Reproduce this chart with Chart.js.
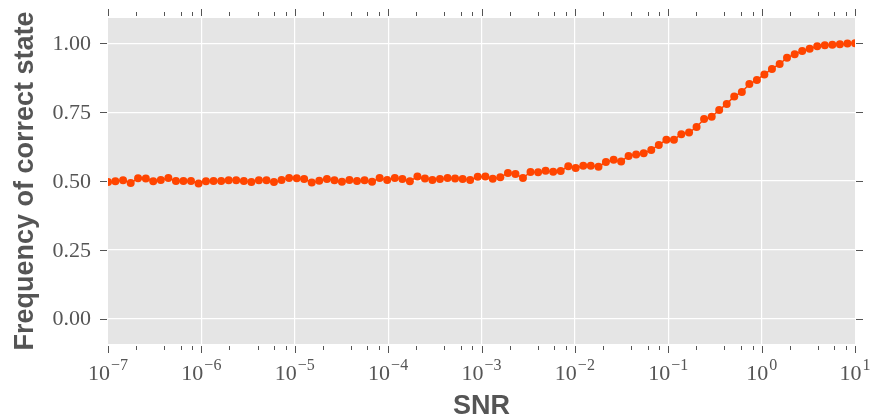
<!DOCTYPE html>
<html>
<head>
<meta charset="utf-8">
<script src="https://cdn.jsdelivr.net/npm/chart.js@4.4.1/dist/chart.umd.min.js"></script>
<style>
  html, body { margin: 0; padding: 0; background: #fff; }
  canvas { display: block; }
</style>
</head>
<body>
<canvas id="snrChart" width="872" height="419"></canvas>
<script>
// SNR values (x, log scale)
const snr = [
  1.00e-7, 1.20e-7, 1.45e-7, 1.75e-7, 2.10e-7, 2.54e-7, 3.05e-7, 3.68e-7, 4.43e-7, 5.34e-7,
  6.43e-7, 7.74e-7, 9.33e-7, 1.12e-6, 1.35e-6, 1.63e-6, 1.96e-6, 2.36e-6, 2.85e-6, 3.43e-6,
  4.13e-6, 4.98e-6, 5.99e-6, 7.22e-6, 8.70e-6, 1.05e-5, 1.26e-5, 1.52e-5, 1.83e-5, 2.21e-5,
  2.66e-5, 3.20e-5, 3.85e-5, 4.64e-5, 5.59e-5, 6.73e-5, 8.11e-5, 9.77e-5, 1.18e-4, 1.42e-4,
  1.71e-4, 2.06e-4, 2.48e-4, 2.98e-4, 3.59e-4, 4.33e-4, 5.21e-4, 6.28e-4, 7.56e-4, 9.11e-4,
  1.10e-3, 1.32e-3, 1.59e-3, 1.92e-3, 2.31e-3, 2.78e-3, 3.35e-3, 4.04e-3, 4.86e-3, 5.86e-3,
  7.05e-3, 8.50e-3, 1.02e-2, 1.23e-2, 1.48e-2, 1.79e-2, 2.15e-2, 2.60e-2, 3.13e-2, 3.76e-2,
  4.53e-2, 5.46e-2, 6.58e-2, 7.92e-2, 9.55e-2, 1.15e-1, 1.38e-1, 1.67e-1, 2.01e-1, 2.42e-1,
  2.92e-1, 3.51e-1, 4.23e-1, 5.09e-1, 6.14e-1, 7.39e-1, 8.90e-1, 1.07, 1.29, 1.56,
  1.87, 2.26, 2.72, 3.27, 3.94, 4.75, 5.72, 6.89, 8.30, 10.0
];

// frequency of correct state (y)
const freq = [
  0.496, 0.499, 0.503, 0.493, 0.510, 0.509, 0.499, 0.504, 0.511, 0.500,
  0.500, 0.500, 0.491, 0.499, 0.500, 0.500, 0.503, 0.503, 0.500, 0.496,
  0.503, 0.503, 0.496, 0.504, 0.511, 0.510, 0.507, 0.495, 0.501, 0.507,
  0.503, 0.497, 0.504, 0.500, 0.503, 0.497, 0.511, 0.504, 0.511, 0.507,
  0.499, 0.516, 0.509, 0.504, 0.507, 0.511, 0.509, 0.507, 0.504, 0.515,
  0.516, 0.508, 0.514, 0.529, 0.525, 0.511, 0.533, 0.532, 0.537, 0.534,
  0.536, 0.554, 0.547, 0.555, 0.555, 0.552, 0.569, 0.577, 0.571, 0.591,
  0.596, 0.601, 0.613, 0.631, 0.650, 0.650, 0.670, 0.676, 0.696, 0.725,
  0.733, 0.758, 0.780, 0.807, 0.823, 0.852, 0.867, 0.887, 0.907, 0.925,
  0.948, 0.960, 0.972, 0.980, 0.989, 0.993, 0.995, 0.997, 0.999, 1.000
];

// tick definitions
const xExps = [-7, -6, -5, -4, -3, -2, -1, 0, 1];
const xMinorMults = [2, 4, 6, 8];
const yTicks = [0.00, 0.25, 0.50, 0.75, 1.00];
const yTickLabels = ['0.00', '0.25', '0.50', '0.75', '1.00'];

const xMin = 1e-7, xMax = 10;
const yMin = -0.092, yMax = 1.092;

const pointColor = '#FF4500';
const axisGray = '#555555';
const serif = '"Liberation Serif", "DejaVu Serif", serif';
const sans = '"Liberation Sans", Arial, sans-serif';

const framePlugin = {
  id: 'frame',
  beforeDraw: function (chart) {
    const ctx = chart.ctx;
    const a = chart.chartArea;
    ctx.save();
    ctx.fillStyle = '#ffffff';
    ctx.fillRect(0, 0, chart.width, chart.height);
    ctx.fillStyle = '#E5E5E5';
    ctx.fillRect(a.left, a.top, a.right - a.left, a.bottom - a.top);
    ctx.restore();
  },
  afterDraw: function (chart) {
    const ctx = chart.ctx;
    const a = chart.chartArea;
    const xs = chart.scales.x;
    const ys = chart.scales.y;
    ctx.save();
    ctx.strokeStyle = axisGray;
    ctx.lineWidth = 1;

    const vTick = function (px, len) {
      const x = Math.round(px) + 0.5;
      ctx.beginPath();
      ctx.moveTo(x, a.bottom + 2);
      ctx.lineTo(x, a.bottom + 2 + len);
      ctx.moveTo(x, a.top - 2);
      ctx.lineTo(x, a.top - 2 - len);
      ctx.stroke();
    };

    // x ticks, major and minor, top and bottom
    xExps.forEach(function (e) {
      vTick(xs.getPixelForValue(Math.pow(10, e)), 7);
      if (e < xExps[xExps.length - 1]) {
        xMinorMults.forEach(function (m) {
          vTick(xs.getPixelForValue(m * Math.pow(10, e)), 4);
        });
      }
    });

    // y ticks, left and right
    yTicks.forEach(function (v) {
      const y = Math.round(ys.getPixelForValue(v)) + 0.5;
      ctx.beginPath();
      ctx.moveTo(a.left - 1, y);
      ctx.lineTo(a.left - 8, y);
      ctx.moveTo(a.right + 1, y);
      ctx.lineTo(a.right + 8, y);
      ctx.stroke();
    });

    // y tick labels
    ctx.fillStyle = axisGray;
    ctx.font = '22px ' + serif;
    ctx.textAlign = 'right';
    ctx.textBaseline = 'middle';
    yTicks.forEach(function (v, i) {
      ctx.fillText(yTickLabels[i], a.left - 17, ys.getPixelForValue(v) + 1);
    });

    // x tick labels: 10 with superscript exponent
    ctx.textAlign = 'left';
    ctx.textBaseline = 'alphabetic';
    xExps.forEach(function (e) {
      const base = '10';
      const sup = e < 0 ? '\u2212' + (-e) : String(e);
      ctx.font = '22px ' + serif;
      const wb = ctx.measureText(base).width;
      ctx.font = '16px ' + serif;
      const ws = ctx.measureText(sup).width;
      const px = xs.getPixelForValue(Math.pow(10, e));
      const start = px - (wb + 1 + ws) / 2;
      ctx.font = '22px ' + serif;
      ctx.fillText(base, start, 380);
      ctx.font = '16px ' + serif;
      ctx.fillText(sup, start + wb + 1, 370);
    });

    // axis titles
    ctx.font = 'bold 27px ' + sans;
    ctx.textAlign = 'center';
    ctx.fillText('SNR', (a.left + a.right) / 2, 414);

    ctx.translate(33, (a.top + a.bottom) / 2);
    ctx.rotate(-Math.PI / 2);
    ctx.fillText('Frequency of correct state', 0, 0);
    ctx.restore();
  }
};

const points = snr.map(function (x, i) { return { x: x, y: freq[i] }; });

new Chart(document.getElementById('snrChart').getContext('2d'), {
  type: 'scatter',
  data: {
    datasets: [{
      data: points,
      showLine: true,
      borderColor: pointColor,
      borderWidth: 1.5,
      backgroundColor: pointColor,
      pointBackgroundColor: pointColor,
      pointBorderColor: pointColor,
      pointBorderWidth: 0,
      pointRadius: 4,
      pointHoverRadius: 4,
      clip: 0
    }]
  },
  options: {
    responsive: false,
    animation: false,
    events: [],
    layout: { padding: { left: 108, right: 17, top: 18, bottom: 75 } },
    plugins: {
      legend: { display: false },
      tooltip: { enabled: false }
    },
    scales: {
      x: {
        type: 'logarithmic',
        min: xMin,
        max: xMax,
        afterBuildTicks: function (scale) {
          scale.ticks = xExps.map(function (e) { return { value: Math.pow(10, e) }; });
        },
        ticks: { display: false },
        border: { display: false },
        grid: {
          drawTicks: false,
          lineWidth: 1.2,
          color: function (c) {
            const v = c.tick ? c.tick.value : 0;
            return (v <= xMin * 1.001 || v >= xMax * 0.999) ? 'rgba(0,0,0,0)' : '#ffffff';
          }
        }
      },
      y: {
        min: yMin,
        max: yMax,
        afterBuildTicks: function (scale) {
          scale.ticks = yTicks.map(function (v) { return { value: v }; });
        },
        ticks: { display: false },
        border: { display: false },
        grid: { drawTicks: false, lineWidth: 1.2, color: '#ffffff' }
      }
    }
  },
  plugins: [framePlugin]
});
</script>
</body>
</html>
